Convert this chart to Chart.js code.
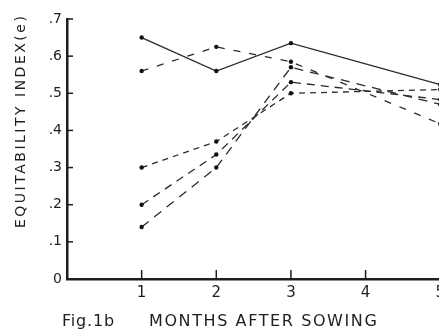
<!DOCTYPE html>
<html>
<head>
<meta charset="utf-8">
<script src="https://cdn.jsdelivr.net/npm/chart.js@4"></script>
<style>
  html, body { margin: 0; padding: 0; background: #fff; overflow: hidden; }
  #wrap { position: relative; width: 450px; height: 329px; }
</style>
</head>
<body>
<div id="wrap"><canvas id="c"></canvas></div>
<script>
// ---- data ----
const months = [1, 2, 3, 4, 5];
const seriesA = [0.65, 0.56, 0.635, null, 0.523];   // solid
const seriesB = [0.56, 0.625, 0.585, null, 0.418];  // dashed
const seriesC = [0.30, 0.37, 0.50, null, 0.51];     // short dashes
const seriesD = [0.20, 0.335, 0.53, null, 0.483];   // dashed
const seriesE = [0.14, 0.30, 0.57, null, 0.47];     // long dashes
const yTickLabels = ['0', '.1', '.2', '.3', '.4', '.5', '.6', '.7'];
const xTickLabels = ['', '1', '2', '3', '4', '5'];
const yTitle = 'EQUITABILITY INDEX(e)';
const xTitle = 'MONTHS AFTER SOWING';
const figLabel = 'Fig.1b';

const INK = '#1e1e1e';
const FONT = '"DejaVu Sans", sans-serif';

function toPts(vals) {
  return months.map((m, i) => ({ x: m, y: vals[i] }));
}
function ds(vals, dash, width) {
  return {
    data: toPts(vals),
    borderColor: '#2a2a2a',
    backgroundColor: '#111',
    borderWidth: width,
    borderDash: dash,
    pointRadius: 2.2,
    pointBorderWidth: 0,
    pointBackgroundColor: '#111',
    spanGaps: true,
    tension: 0,
    clip: false
  };
}

const innerTicks = {
  id: 'innerTicks',
  afterDraw(chart) {
    const ctx = chart.ctx;
    const xs = chart.scales.x, ys = chart.scales.y;
    const ca = chart.chartArea;
    ctx.save();
    ctx.strokeStyle = INK;
    ctx.lineWidth = 1.5;
    xs.ticks.forEach(t => {
      if (t.value === 0) return;
      const px = xs.getPixelForValue(t.value);
      ctx.beginPath();
      ctx.moveTo(px, ca.bottom);
      ctx.lineTo(px, ca.bottom - 9);
      ctx.stroke();
    });
    ys.ticks.forEach(t => {
      if (t.value === 0) return;
      const py = ys.getPixelForValue(t.value);
      ctx.beginPath();
      ctx.moveTo(ca.left, py);
      ctx.lineTo(ca.left + 6, py);
      ctx.stroke();
    });
    // titles / caption
    ctx.fillStyle = INK;
    ctx.textBaseline = 'alphabetic';
    ctx.textAlign = 'left';
    ctx.font = '16px ' + FONT;
    ctx.letterSpacing = '1.6px';
    ctx.fillText(xTitle, 149, 326);
    ctx.letterSpacing = '0.8px';
    ctx.fillText(figLabel, 62, 326);
    ctx.translate(25, 228);
    ctx.rotate(-Math.PI / 2);
    ctx.font = '14px ' + FONT;
    ctx.letterSpacing = '2.5px';
    ctx.fillText(yTitle, 0, 0);
    ctx.restore();
  }
};

new Chart(document.getElementById('c'), {
  type: 'line',
  data: {
    datasets: [
      ds(seriesA, [], 1.3),
      ds(seriesB, [7, 9], 1.3),
      ds(seriesC, [6, 5], 1.3),
      ds(seriesD, [8, 6], 1.3),
      ds(seriesE, [9, 7], 1.3)
    ]
  },
  options: {
    responsive: true,
    maintainAspectRatio: false,
    animation: false,
    layout: { padding: { top: 19, right: 7, bottom: 0, left: 0 } },
    plugins: { legend: { display: false }, tooltip: { enabled: false } },
    scales: {
      x: {
        type: 'linear',
        min: 0, max: 5,
        afterFit(s) { s.height = 50; },
        grid: { display: false, drawTicks: false },
        border: { display: true, color: INK, width: 2.5 },
        ticks: {
          stepSize: 1,
          padding: 5,
          color: INK,
          font: { family: FONT, size: 15 },
          callback: (v) => xTickLabels[Math.round(v)] ?? ''
        }
      },
      y: {
        min: 0, max: 0.7,
        afterFit(s) { s.width = 67; },
        grid: { display: false, drawTicks: false },
        border: { display: true, color: INK, width: 2.5 },
        ticks: {
          stepSize: 0.1,
          padding: 5,
          color: INK,
          font: { family: FONT, size: 14 },
          callback: (v) => yTickLabels[Math.round(v * 10)] ?? ''
        }
      }
    }
  },
  plugins: [innerTicks]
});
</script>
</body>
</html>
